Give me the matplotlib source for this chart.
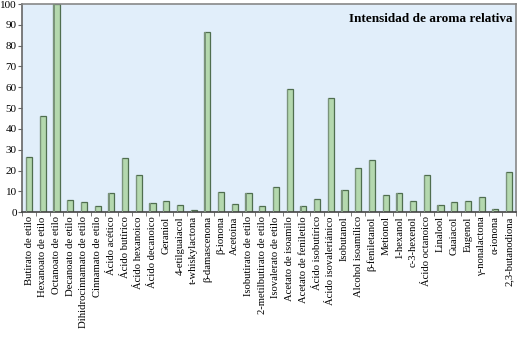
import matplotlib
matplotlib.use("Agg")
import matplotlib.pyplot as plt
import numpy as np

compuestos = [
    "Butirato de etilo", "Hexanoato de etilo", "Octanoato de etilo",
    "Decanoato de etilo", "Dihidrocinnamato de etilo", "Cinnamato de etilo",
    "Ácido acético", "Ácido butírico", "Ácido hexanoico", "Ácido decanoico",
    "Geraniol", "4-etilguaiacol", "t-whiskylactona", "β-damascenona",
    "β-ionona", "Acetoína", "Isobutirato de etilo", "2-metilbutirato de etilo",
    "Isovalerato de etilo", "Acetato de isoamilo", "Acetato de feniletilo",
    "Ácido isobutírico", "Ácido isovaleriánico", "Isobutanol",
    "Alcohol isoamílico", "β-feniletanol", "Metionol", "1-hexanol",
    "c-3-hexenol", "Ácido octanoico", "Linalool", "Guaiacol", "Eugenol",
    "γ-nonalactona", "α-ionona", "2,3-butanodiona",
]
intensidad = [
    26.5, 46, 100, 6, 5, 3, 9, 26, 18, 4.5,
    5.5, 3.5, 1, 86.5, 9.5, 4, 9, 3, 12, 59,
    3, 6.5, 55, 10.5, 21, 25, 8, 9, 5.5, 18,
    3.5, 5, 5.5, 7.5, 1.5, 19.5,
]

plt.rcParams["font.family"] = ["Liberation Serif", "DejaVu Serif"]

fig = plt.figure(figsize=(5.17, 3.41), dpi=100)
ax = fig.add_axes([0.043, 0.378, 0.955, 0.61])
ax.set_facecolor("#e1eefa")

x = np.arange(len(compuestos))
ax.bar(x, intensidad, width=0.45, color="#b4d8ae", edgecolor="#4f6e4f",
       linewidth=0.9, zorder=2)
# darker strip on the left side of each bar
ax.bar(x - 0.18, intensidad, width=0.09, color="#7a937a", linewidth=0, zorder=3)

ax.set_xlim(-0.5, len(compuestos) - 0.5)
ax.set_ylim(0, 100)
ax.set_yticks(range(0, 101, 10))
ax.set_xticks(x)
ax.set_xticklabels(compuestos, rotation=90, fontsize=7.7)
ax.tick_params(axis="x", length=0, pad=3)
ax.set_xticks(np.arange(-0.5, len(compuestos), 1), minor=True)
ax.tick_params(axis="x", which="minor", length=3, color="#666666")
ax.tick_params(axis="y", labelsize=8, length=3, color="#666666", pad=1)

for s in ax.spines.values():
    s.set_color("#888888")
    s.set_linewidth(1.2)
ax.spines["left"].set_color("#666666")
ax.spines["bottom"].set_color("#444444")

ax.text(0.993, 0.93, "Intensidad de aroma relativa", transform=ax.transAxes,
        ha="right", va="center", fontsize=9.5, fontweight="bold")

fig.savefig("out.png", dpi=100)
